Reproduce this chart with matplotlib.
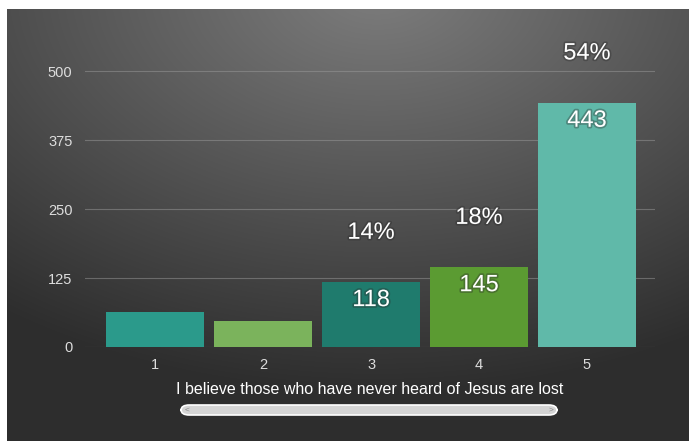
import matplotlib.pyplot as plt
import matplotlib.patheffects as pe
from matplotlib.patches import FancyBboxPatch
import numpy as np

plt.rcParams['font.family'] = ['Liberation Sans', 'DejaVu Sans']

# data
categories = ['1', '2', '3', '4', '5']
counts = [64, 47, 118, 145, 443]
count_labels = ['', '', '118', '145', '443']
pct_labels = ['', '', '14%', '18%', '54%']
bar_colors = ['#2b9a8b', '#7bb35c', '#1f7b6d', '#5b9b32', '#60b9a9']
yticks = [0, 125, 250, 375, 500]
xlabel = 'I believe those who have never heard of Jesus are lost'

W, H = 689, 441
fig = plt.figure(figsize=(W / 100, H / 100), dpi=100, facecolor='white')

# dark background with a soft light spot at the top
bg = fig.add_axes([7 / W, 0, 1 - 7 / W, (H - 9) / H])
yy, xx = np.mgrid[0:432, 0:682]
d = np.sqrt(((xx - 370) / 620.0) ** 2 + ((yy + 20) / 400.0) ** 2)
shade = 0.18 + 0.31 * np.clip(1 - d, 0, 1)
bg.imshow(np.dstack([shade, shade, shade]), aspect='auto', extent=[0, 1, 0, 1])
bg.set_axis_off()

ax = fig.add_axes([85 / W, 94 / H, 570 / W, 298 / H])
ax.set_facecolor('none')
x = np.arange(1, len(categories) + 1)
ax.bar(x, counts, width=0.91, color=bar_colors, zorder=3)
ax.set_xlim(0.35, 5.63)
ax.set_ylim(0, 540)

for yv in yticks:
    ax.axhline(yv, color='#9a9a9a', lw=0.8, alpha=0.5, zorder=1)

glow = [pe.withStroke(linewidth=2.5, foreground='#2a2a2a', alpha=0.35)]
for xi, c, cl, pl in zip(x, counts, count_labels, pct_labels):
    if cl:
        ax.text(xi, c - 33, cl, ha='center', va='center', color='white',
                fontsize=17, zorder=4, path_effects=glow)
    if pl:
        ax.text(xi, c + 89, pl, ha='center', va='center', color='white',
                fontsize=17, zorder=4, path_effects=glow, clip_on=False)

ax.set_xticks(x)
ax.set_xticklabels(categories)
ax.set_yticks(yticks)
ax.tick_params(length=0, colors='#dddddd', labelsize=10.5)
ax.tick_params(axis='y', pad=9)
ax.tick_params(axis='x', pad=8)
for s in ax.spines.values():
    s.set_visible(False)
ax.set_xlabel(xlabel, color='white', fontsize=11.5, labelpad=7)

# scrollbar under the chart
fig.patches.append(FancyBboxPatch((181 / W, 26 / H), 376 / W, 10 / H,
                                  boxstyle='round,pad=0,rounding_size=0.012',
                                  transform=fig.transFigure, facecolor='#d4d4d4',
                                  edgecolor='white', lw=1.2))
fig.text(187 / W, 31 / H, '<', color='#888888', fontsize=6, ha='center', va='center')
fig.text(551 / W, 31 / H, '>', color='#888888', fontsize=6, ha='center', va='center')

fig.savefig('out.png', dpi=100)
